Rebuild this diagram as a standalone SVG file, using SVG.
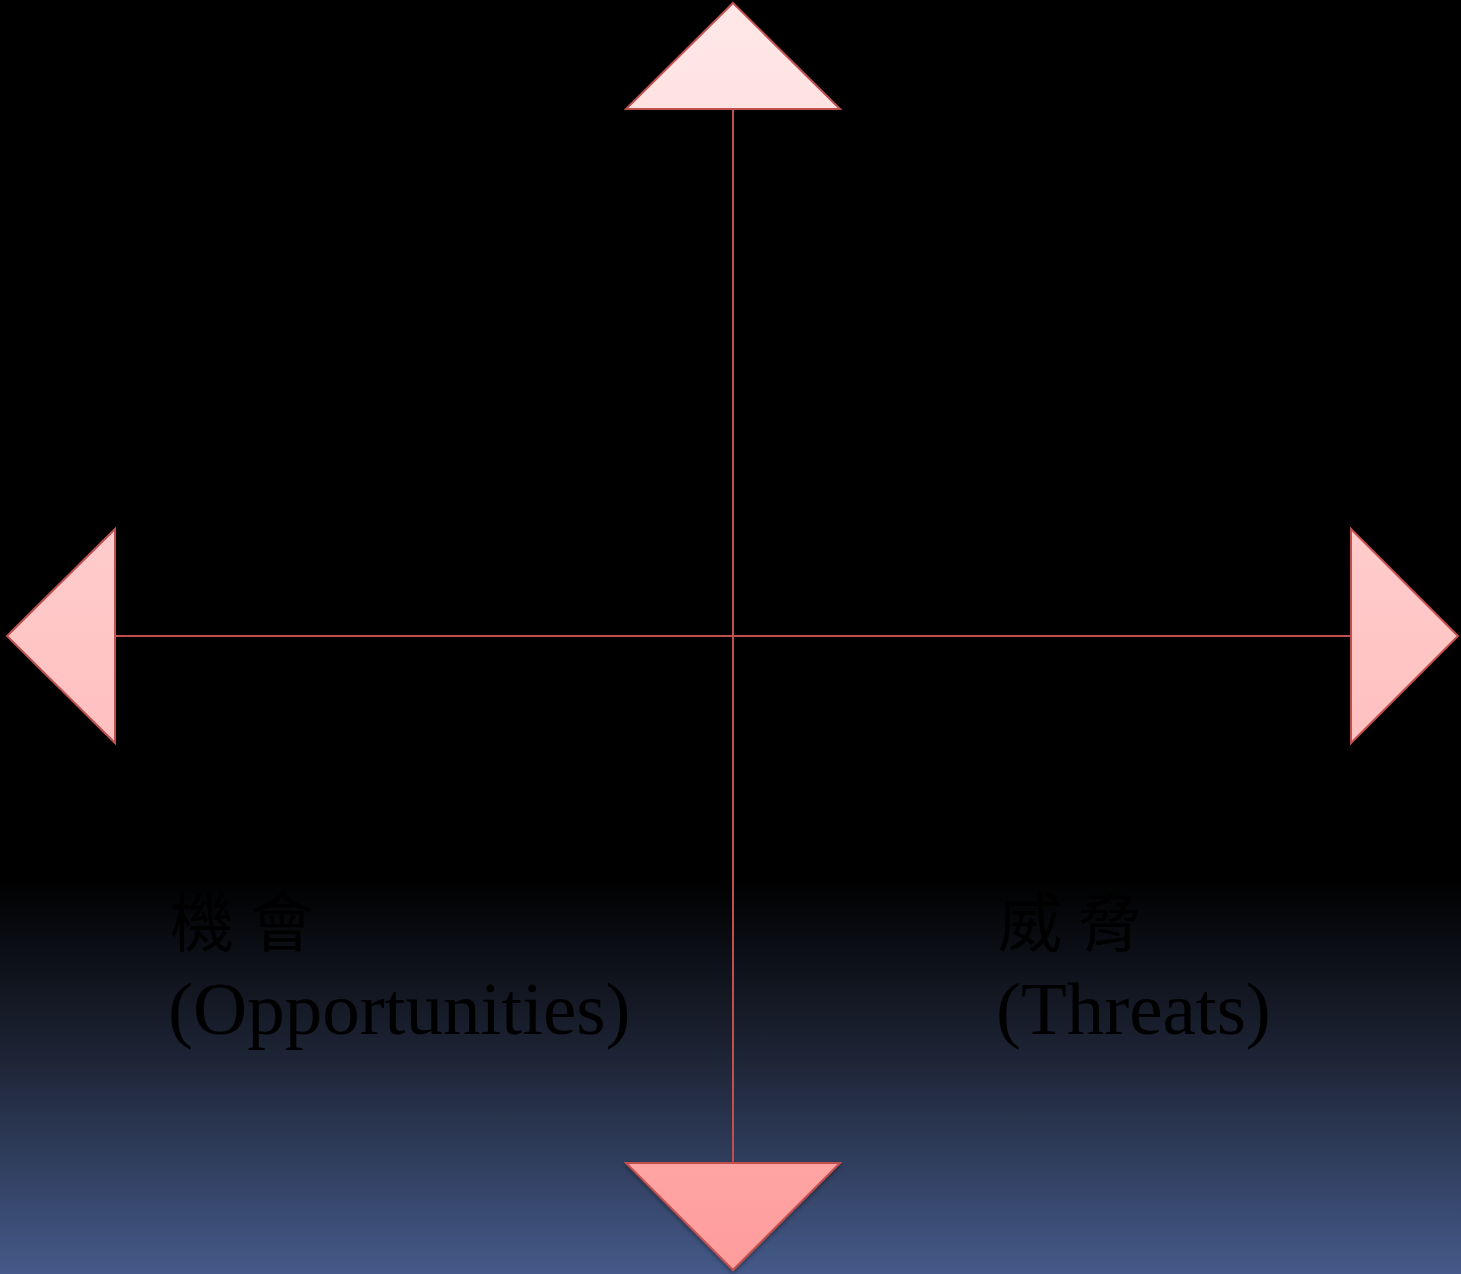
<svg xmlns="http://www.w3.org/2000/svg" width="1461" height="1274" viewBox="0 0 1461 1274">
<defs>
<linearGradient id="bg" x1="0" y1="0" x2="0" y2="1274" gradientUnits="userSpaceOnUse">
<stop offset="0" stop-color="#000"/>
<stop offset="0.69" stop-color="#000"/>
<stop offset="0.83" stop-color="#1d2435"/>
<stop offset="1" stop-color="#455a8a"/>
</linearGradient>
<linearGradient id="arrowFill" x1="0" y1="0" x2="0" y2="1274" gradientUnits="userSpaceOnUse">
<stop offset="0" stop-color="#ffe8e8"/>
<stop offset="0.5" stop-color="#ffc6c6"/>
<stop offset="1" stop-color="#ff9c9c"/>
</linearGradient>
<filter id="sh" x="-10%" y="-10%" width="120%" height="120%">
<feDropShadow dx="0" dy="2" stdDeviation="2" flood-color="#000" flood-opacity="0.4"/>
</filter>
</defs>
<style>
.ar{fill:url(#arrowFill);stroke:#c0504d;stroke-width:2;stroke-linejoin:miter}
.ln{stroke:#c0504d;stroke-width:2;fill:none}
.cjk{font-family:"Liberation Serif","Noto Sans CJK TC",serif;font-size:64px;fill:#000}
.en{font-family:"Liberation Serif",serif;font-size:75px;fill:#000}
</style>
<rect width="1461" height="1274" fill="url(#bg)"/>
<g id="connectors">
<line class="ln" x1="733" y1="109" x2="733" y2="1163"/>
<line class="ln" x1="115" y1="636" x2="1351" y2="636"/>
</g>
<g id="arrow-up"><polygon class="ar" points="733,3 840,109 626,109"/></g>
<g id="arrow-down" filter="url(#sh)"><polygon class="ar" points="626,1163 840,1163 733,1270"/></g>
<g id="arrow-left"><polygon class="ar" points="7,636 115,529 115,743"/></g>
<g id="arrow-right"><polygon class="ar" points="1351,529 1458,636 1351,743"/></g>
<g id="opportunities">
<text class="cjk" x="170" y="946">機 會</text>
<text class="en" x="168" y="1034">(Opportunities)</text>
</g>
<g id="threats">
<text class="cjk" x="998" y="946">威 脅</text>
<text class="en" x="996" y="1034">(Threats)</text>
</g>
</svg>
